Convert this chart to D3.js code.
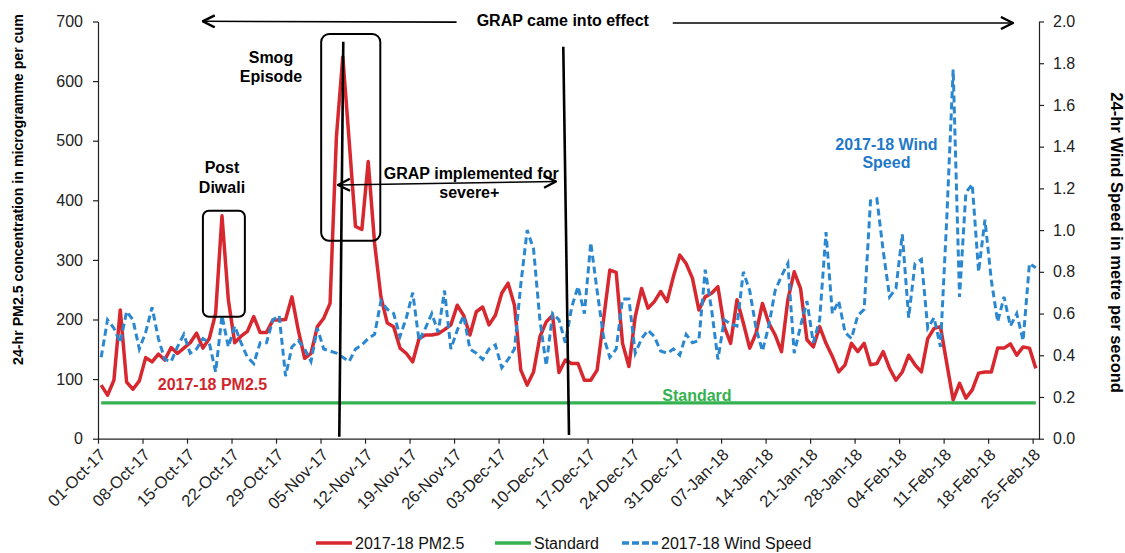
<!DOCTYPE html>
<html>
<head>
<meta charset="utf-8">
<script src="https://cdn.jsdelivr.net/npm/d3@7"></script>
<style>
  body { margin: 0; background: #fff; }
  text { font-family: "Liberation Sans", Arial, sans-serif; }
</style>
</head>
<body>
<div id="chart"></div>
<script>
// tick labels, one every 7 days from 01-Oct-17
const tickLabels = ["01-Oct-17","08-Oct-17","15-Oct-17","22-Oct-17","29-Oct-17","05-Nov-17",
  "12-Nov-17","19-Nov-17","26-Nov-17","03-Dec-17","10-Dec-17","17-Dec-17","24-Dec-17",
  "31-Dec-17","07-Jan-18","14-Jan-18","21-Jan-18","28-Jan-18","04-Feb-18","11-Feb-18",
  "18-Feb-18","25-Feb-18"];
const tickEvery = 7;
const dayCount = 148;   // 01-Oct-17 .. 25-Feb-18

// 24-hr PM2.5, microgramme per cum
const pm25 = [
  90, 73, 98, 216, 95, 83, 97, 136, 129, 142,
  132, 153, 143, 152, 161, 177, 152, 168, 210, 374,
  233, 161, 172, 180, 205, 178, 178, 199, 199, 200,
  238, 182, 135, 143, 188, 202, 227, 507, 641, 500,
  356, 351, 465, 328, 238, 194, 188, 152, 143, 129,
  168, 174, 174, 176, 183, 191, 224, 207, 174, 213,
  221, 191, 207, 244, 261, 224, 115, 90, 112, 171,
  196, 207, 111, 132, 126, 126, 98, 98, 115, 199,
  283, 279, 160, 121, 205, 252, 219, 230, 247, 230,
  272, 308, 294, 269, 216, 238, 244, 255, 188, 160,
  233, 194, 152, 177, 227, 194, 174, 146, 233, 280,
  252, 166, 154, 188, 160, 138, 112, 124, 160, 146,
  160, 124, 126, 146, 118, 98, 112, 140, 124, 112,
  168, 185, 188, 126, 65, 93, 68, 82, 110, 112,
  112, 152, 152, 159, 140, 154, 152, 118
];

// 24-hr wind speed, metre per second
const windSpeed = [
  0.39, 0.57, 0.53, 0.46, 0.61, 0.57, 0.43, 0.51, 0.63, 0.48,
  0.38, 0.37, 0.44, 0.50, 0.41, 0.43, 0.48, 0.46, 0.32, 0.59,
  0.44, 0.54, 0.46, 0.39, 0.36, 0.46, 0.46, 0.57, 0.59, 0.30,
  0.44, 0.47, 0.43, 0.37, 0.53, 0.43, 0.42, 0.41, 0.39, 0.37,
  0.43, 0.45, 0.48, 0.50, 0.66, 0.62, 0.60, 0.49, 0.58, 0.70,
  0.47, 0.53, 0.60, 0.51, 0.71, 0.43, 0.52, 0.59, 0.43, 0.41,
  0.38, 0.43, 0.45, 0.34, 0.38, 0.43, 0.74, 1.00, 0.91, 0.57,
  0.35, 0.60, 0.57, 0.46, 0.63, 0.73, 0.60, 0.94, 0.71, 0.49,
  0.39, 0.43, 0.67, 0.67, 0.41, 0.48, 0.52, 0.49, 0.42, 0.41,
  0.43, 0.40, 0.50, 0.46, 0.47, 0.81, 0.62, 0.38, 0.57, 0.55,
  0.54, 0.80, 0.71, 0.53, 0.42, 0.54, 0.71, 0.78, 0.84, 0.41,
  0.54, 0.66, 0.46, 0.57, 0.99, 0.60, 0.66, 0.51, 0.48, 0.59,
  0.62, 1.14, 1.15, 0.90, 0.68, 0.72, 0.98, 0.58, 0.84, 0.86,
  0.53, 0.58, 0.44, 1.06, 1.77, 0.68, 1.18, 1.22, 0.80, 1.05,
  0.76, 0.56, 0.68, 0.54, 0.60, 0.47, 0.84, 0.82
];

const standardValue = 60;

const leftTicks = [0, 100, 200, 300, 400, 500, 600, 700];
const rightTicks = [0, 0.2, 0.4, 0.6, 0.8, 1.0, 1.2, 1.4, 1.6, 1.8, 2.0];

const colors = {pm: "#d7282f", std: "#35b24f", wind: "#2b88d0"};

const width = 1125, height = 553;
const margin = {top: 21.5, right: 86, bottom: 114.3, left: 98};

const svg = d3.select("#chart").append("svg")
  .attr("width", width)
  .attr("height", height);

svg.append("rect").attr("width", width).attr("height", height).attr("fill", "#fff");

const x = d3.scaleLinear()
  .domain([0, dayCount])
  .range([margin.left, width - margin.right]);

const yL = d3.scaleLinear()
  .domain([0, 700])
  .range([height - margin.bottom, margin.top]);

const yR = d3.scaleLinear()
  .domain([0, 2])
  .range([height - margin.bottom, margin.top]);

// arrow head marker
svg.append("defs").append("marker")
  .attr("id", "chev")
  .attr("viewBox", "0 0 14 14")
  .attr("refX", 13).attr("refY", 7)
  .attr("markerWidth", 14).attr("markerHeight", 14)
  .attr("markerUnits", "userSpaceOnUse")
  .attr("orient", "auto-start-reverse")
  .append("path")
  .attr("d", "M1,1 L13,7 L1,13")
  .attr("fill", "none")
  .attr("stroke", "#000")
  .attr("stroke-width", 2.4);

// axes
const xAxis = d3.axisBottom(x)
  .tickValues(tickLabels.map((d, i) => i * tickEvery))
  .tickFormat("")
  .tickSize(5)
  .tickSizeOuter(0);

const xAxisGroup = svg.append("g")
  .attr("class", "axis x-axis")
  .attr("transform", `translate(0, ${height - margin.bottom})`)
  .call(xAxis);

xAxisGroup.selectAll(".tick")
  .append("text")
  .attr("fill", "#222")
  .attr("font-size", 16.5)
  .attr("text-anchor", "end")
  .attr("dy", "0.35em")
  .attr("transform", "translate(4,13) rotate(-45)")
  .text((d, i) => tickLabels[i]);

const yAxisL = d3.axisLeft(yL)
  .tickValues(leftTicks)
  .tickSize(5)
  .tickPadding(10)
  .tickSizeOuter(0);

svg.append("g")
  .attr("class", "axis y-axis")
  .attr("transform", `translate(${margin.left}, 0)`)
  .call(yAxisL);

const yAxisR = d3.axisRight(yR)
  .tickValues(rightTicks)
  .tickFormat(d3.format(".1f"))
  .tickSize(5)
  .tickPadding(9)
  .tickSizeOuter(0);

svg.append("g")
  .attr("class", "axis y-axis-right")
  .attr("transform", `translate(${width - margin.right}, 0)`)
  .call(yAxisR);

svg.selectAll(".axis path, .axis line").attr("stroke", "#222").attr("stroke-width", 1.2);
svg.selectAll(".y-axis text, .y-axis-right text").attr("font-size", 16).attr("fill", "#222");

// axis titles
svg.append("text")
  .attr("transform", `translate(23, ${yL(418)}) rotate(-90)`)
  .attr("text-anchor", "middle")
  .attr("font-size", 14.2)
  .attr("font-weight", "bold")
  .text("24-hr PM2.5 concentration in microgramme per cum");

svg.append("text")
  .attr("transform", `translate(1111, ${yR(0.94)}) rotate(90)`)
  .attr("text-anchor", "middle")
  .attr("font-size", 16.5)
  .attr("font-weight", "bold")
  .text("24-hr Wind Speed in metre per second");

// series
const linePm = d3.line().x((d, i) => x(i + 0.5)).y(d => yL(d));
const lineWind = d3.line().x((d, i) => x(i + 0.5)).y(d => yR(d));

svg.append("path")
  .datum(pm25)
  .attr("d", linePm)
  .attr("fill", "none")
  .attr("stroke", colors.pm)
  .attr("stroke-width", 3.5)
  .attr("stroke-linejoin", "round");

svg.append("path")
  .datum(pm25.map(() => standardValue))
  .attr("d", linePm)
  .attr("fill", "none")
  .attr("stroke", colors.std)
  .attr("stroke-width", 3.2);

svg.append("path")
  .datum(windSpeed)
  .attr("d", lineWind)
  .attr("fill", "none")
  .attr("stroke", colors.wind)
  .attr("stroke-width", 3)
  .attr("stroke-dasharray", "7,4");

// annotations (in data units: day index, PM2.5)
const boxes = [
  {x0: 35.1, x1: 44.4, y0: 679, y1: 332, r: 8},
  {x0: 16.5, x1: 23.1, y0: 382.6, y1: 204.7, r: 6}
];
svg.selectAll(".box")
  .data(boxes)
  .join("rect")
  .attr("class", "box")
  .attr("x", d => x(d.x0))
  .attr("y", d => yL(d.y0))
  .attr("width", d => x(d.x1) - x(d.x0))
  .attr("height", d => yL(d.y1) - yL(d.y0))
  .attr("rx", d => d.r)
  .attr("fill", "none")
  .attr("stroke", "#000")
  .attr("stroke-width", 2);

const markerLines = [
  {x0: 37.95, y0: 3.4, x1: 38.58, y1: 666},
  {x0: 73.18, y0: 657.7, x1: 74.08, y1: 6.2}
];
svg.selectAll(".mark-line")
  .data(markerLines)
  .join("line")
  .attr("class", "mark-line")
  .attr("x1", d => x(d.x0)).attr("y1", d => yL(d.y0))
  .attr("x2", d => x(d.x1)).attr("y2", d => yL(d.y1))
  .attr("stroke", "#000")
  .attr("stroke-width", 2.6);

const labels = [
  {t: "GRAP came into effect", x: 73.1, y: 692, c: "#000"},
  {t: "Smog", x: 27.2, y: 630, c: "#000"},
  {t: "Episode", x: 27.2, y: 598, c: "#000"},
  {t: "Post", x: 19.5, y: 445, c: "#000"},
  {t: "Diwali", x: 19.5, y: 412, c: "#000"},
  {t: "GRAP implemented for", x: 58.7, y: 435, c: "#000"},
  {t: "severe+", x: 58.4, y: 404, c: "#000"},
  {t: "2017-18 PM2.5", x: 18.0, y: 82, c: "#d0262d"},
  {t: "Standard", x: 94.2, y: 63, c: colors.std},
  {t: "2017-18 Wind", x: 124.0, y: 484, c: "#1f78c8"},
  {t: "Speed", x: 124.0, y: 455, c: "#1f78c8"}
];
svg.selectAll(".anno")
  .data(labels)
  .join("text")
  .attr("class", "anno")
  .attr("x", d => x(d.x))
  .attr("y", d => yL(d.y))
  .attr("text-anchor", "middle")
  .attr("font-size", 16)
  .attr("font-weight", "bold")
  .attr("fill", d => d.c)
  .text(d => d.t);

const arrows = [
  {x0: 56.4, y0: 699, x1: 16.47, y1: 700.3, both: false},
  {x0: 90.4, y0: 697.5, x1: 143.9, y1: 697.5, both: false},
  {x0: 37.74, y0: 425.7, x1: 72.03, y1: 431.5, both: true}
];
svg.selectAll(".arrow")
  .data(arrows)
  .join("line")
  .attr("class", "arrow")
  .attr("x1", d => x(d.x0)).attr("y1", d => yL(d.y0))
  .attr("x2", d => x(d.x1)).attr("y2", d => yL(d.y1))
  .attr("stroke", "#000")
  .attr("stroke-width", 1.6)
  .attr("marker-end", "url(#chev)")
  .attr("marker-start", d => d.both ? "url(#chev)" : null);

// legend
const legendItems = [
  {name: "2017-18 PM2.5", color: colors.pm, dash: null, x: 316},
  {name: "Standard", color: colors.std, dash: null, x: 495},
  {name: "2017-18 Wind Speed", color: colors.wind, dash: "7,3", x: 622}
];
const legend = svg.append("g").attr("transform", "translate(0, 543)");
const li = legend.selectAll("g").data(legendItems).join("g")
  .attr("transform", d => `translate(${d.x}, 0)`);
li.append("line")
  .attr("x1", 0).attr("x2", 36)
  .attr("stroke", d => d.color)
  .attr("stroke-width", 3.5)
  .attr("stroke-dasharray", d => d.dash);
li.append("text")
  .attr("x", 39)
  .attr("dy", "0.35em")
  .attr("font-size", 16)
  .attr("fill", "#111")
  .text(d => d.name);
</script>
</body>
</html>
